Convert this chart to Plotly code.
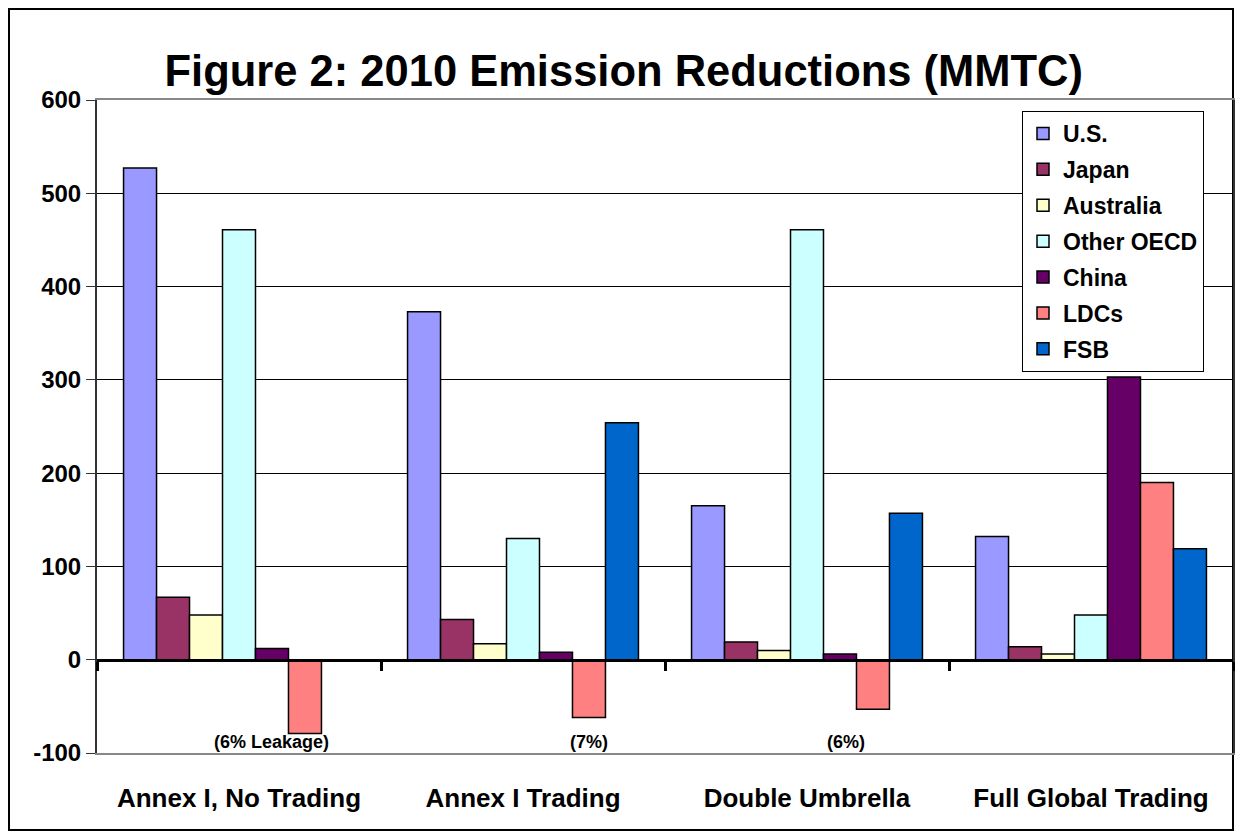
import plotly.graph_objects as go

# Data (MMTC)
scenarios = ["Annex I, No Trading", "Annex I Trading", "Double Umbrella", "Full Global Trading"]
us = [527, 373, 165, 132]
japan = [67, 43, 19, 14]
australia = [48, 17, 10, 6]
other_oecd = [461, 130, 461, 48]
china = [12, 8, 6, 303]
ldcs = [-79, -62, -53, 190]
fsb = [0, 254, 157, 119]
leakage_notes = ["(6% Leakage)", "(7%)", "(6%)"]

series = [
    ("U.S.", us, "#9999FF"),
    ("Japan", japan, "#993366"),
    ("Australia", australia, "#FFFFCC"),
    ("Other OECD", other_oecd, "#CCFFFF"),
    ("China", china, "#660066"),
    ("LDCs", ldcs, "#FF8080"),
    ("FSB", fsb, "#0066CC"),
]

FONT = "Arial, Liberation Sans, sans-serif"
OFF = 8  # the page body margin shifts the figure by 8px
W, H = 1247 - OFF, 840 - OFF
L, R, T, B = 89, 14, 92, 87
PW, PH = W - L - R, H - T - B


# page pixel -> paper coords
def px_x(p):
    return (p - OFF - L) / PW


def px_y(p):
    return (H - B - (p - OFF)) / PH


fig = go.Figure()
for name, vals, col in series:
    fig.add_trace(go.Bar(
        x=scenarios, y=vals, name="<b>%s</b>" % name, legendgroup=name,
        marker=dict(color=col, line=dict(color="black", width=1.5)),
    ))

# dummy trace so the zero-line axis with category ticks gets drawn
fig.add_trace(go.Scatter(x=[None], y=[None], xaxis="x2", showlegend=False, hoverinfo="skip"))

fig.update_layout(
    width=W, height=H,
    margin=dict(l=L, r=R, t=T, b=B),
    paper_bgcolor="white", plot_bgcolor="white",
    barmode="group", bargap=0.187, bargroupgap=0,
    font=dict(family=FONT, color="black"),
    title=dict(text="<b>Figure 2: 2010 Emission Reductions (MMTC)</b>",
               font=dict(size=43.5, family=FONT, color="black"),
               x=0.497, xanchor="center", yref="container", y=1 - 63 / H, yanchor="middle"),
    showlegend=True,
    legend=dict(x=px_x(1022), y=px_y(111), xanchor="left", yanchor="top",
                bgcolor="white", bordercolor="black", borderwidth=1,
                font=dict(size=23, family=FONT, color="black"),
                traceorder="grouped", tracegroupgap=3, itemwidth=30),
    xaxis=dict(type="category", showgrid=False, ticks="", showline=True, mirror=True,
               linecolor="#888888", linewidth=2,
               tickfont=dict(size=26, family=FONT, color="black"),
               ticklabelstandoff=21),
    xaxis2=dict(overlaying="x", anchor="free", position=100 / 700, side="bottom",
                range=[-0.5, 3.5], tickvals=[-0.5, 0.5, 1.5, 2.5, 3.5],
                showticklabels=False, ticks="outside", ticklen=9, tickwidth=3,
                tickcolor="black", showline=True, linecolor="black", linewidth=3,
                showgrid=False, zeroline=False),
    yaxis=dict(range=[-100, 600], dtick=100, showgrid=True, gridcolor="black", gridwidth=1,
               zeroline=False, showline=True, mirror=True, linecolor="#333333", linewidth=2,
               ticks="outside", ticklen=9, tickcolor="#333333",
               tickfont=dict(size=24, family=FONT, color="black")),
)

# bold tick labels
fig.update_xaxes(ticktext=["<b>%s</b>" % s for s in scenarios], tickvals=scenarios, selector=dict(type="category"))
fig.update_yaxes(tickvals=list(range(-100, 700, 100)),
                 ticktext=["<b>%d</b>" % v for v in range(-100, 700, 100)])

# leakage notes
for note, xp in zip(leakage_notes, [212, 589, 867]):
    fig.add_annotation(text="<b>%s</b>" % note, x=px_x(xp), xref="paper", y=-88, yref="y",
                       showarrow=False, font=dict(size=18, family=FONT, color="black"))

# chart frame
fig.add_shape(type="rect", xref="paper", yref="paper",
              x0=px_x(9), x1=px_x(1233), y0=px_y(830), y1=px_y(9),
              line=dict(color="black", width=2), layer="below")

fig.write_html("out.html")
